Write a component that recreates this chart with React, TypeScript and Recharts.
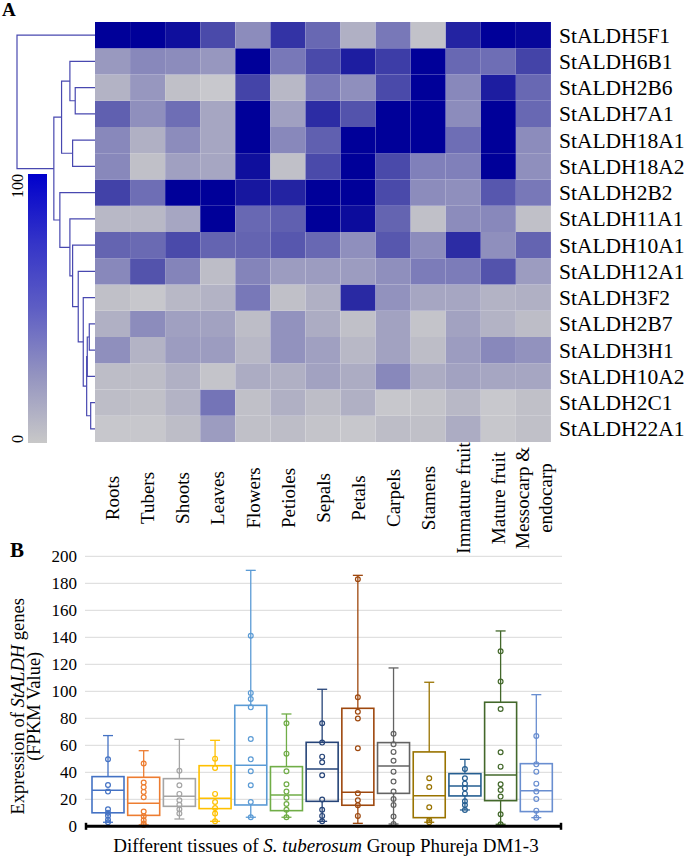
import React from "react";
import {
  BarChart,
  Bar,
  Cell,
  XAxis,
  YAxis,
  ScatterChart,
  Scatter,
  ComposedChart,
  CartesianGrid,
  ReferenceLine,
  Label,
} from "recharts";

const SERIF = '"Times New Roman", "Liberation Serif", serif';

// ---- panel A: heatmap ----
const genes = [
  "StALDH5F1", "StALDH6B1", "StALDH2B6", "StALDH7A1", "StALDH18A1", "StALDH18A2",
  "StALDH2B2", "StALDH11A1", "StALDH10A1", "StALDH12A1", "StALDH3F2", "StALDH2B7",
  "StALDH3H1", "StALDH10A2", "StALDH2C1", "StALDH22A1",
];

const tissues = [
  "Roots", "Tubers", "Shoots", "Leaves", "Flowers", "Petioles", "Sepals", "Petals",
  "Carpels", "Stamens", "Immature fruit", "Mature fruit", "Messocarp & endocarp",
];

const tissueLines = [
  ["Roots"], ["Tubers"], ["Shoots"], ["Leaves"], ["Flowers"], ["Petioles"], ["Sepals"],
  ["Petals"], ["Carpels"], ["Stamens"], ["Immature fruit"], ["Mature fruit"],
  ["Messocarp &", "endocarp"],
];

// relative expression (0-100), rows follow `genes`, columns follow `tissues`
const expression = [
  [100, 100, 95, 72, 40, 82, 58, 20, 50, 8, 88, 100, 98],
  [32, 42, 40, 33, 100, 50, 72, 90, 78, 100, 58, 55, 75],
  [18, 33, 10, 2, 75, 15, 50, 38, 72, 100, 42, 90, 58],
  [62, 38, 55, 25, 100, 28, 85, 68, 100, 100, 40, 100, 58],
  [42, 20, 40, 25, 100, 42, 62, 100, 100, 100, 55, 100, 40],
  [42, 10, 28, 25, 95, 10, 72, 100, 72, 46, 46, 100, 38],
  [76, 55, 100, 100, 92, 88, 100, 100, 72, 40, 38, 66, 50],
  [15, 15, 25, 100, 58, 62, 100, 96, 60, 10, 40, 42, 10],
  [60, 57, 72, 60, 60, 66, 58, 38, 66, 40, 85, 38, 60],
  [42, 68, 44, 12, 44, 30, 30, 30, 38, 48, 48, 68, 30],
  [10, 3, 15, 18, 50, 10, 20, 86, 36, 25, 25, 18, 20],
  [20, 40, 28, 27, 12, 36, 22, 10, 27, 6, 27, 18, 12],
  [38, 18, 30, 30, 15, 36, 28, 15, 27, 12, 30, 42, 36],
  [12, 12, 20, 6, 22, 20, 27, 22, 42, 22, 27, 25, 25],
  [12, 10, 18, 52, 10, 20, 12, 20, 3, 6, 15, 2, 10],
  [3, 3, 12, 30, 10, 12, 6, 3, 12, 10, 22, 3, 10],
];

// dendrogram merges: [child a, child b, height]; leaves are 0..15, new nodes from 16
const merges: [number, number, number][] = [
  [11, 12, 5.7],
  [16, 13, 7.7],
  [14, 15, 4.3],
  [17, 18, 8.3],
  [10, 19, 11.7],
  [9, 20, 16.7],
  [8, 21, 22.3],
  [7, 22, 25],
  [6, 23, 35],
  [2, 3, 19.7],
  [1, 25, 25],
  [4, 5, 22.3],
  [26, 27, 33.3],
  [28, 24, 41],
  [0, 29, 77.7],
];

const heatStops: [number, string][] = [
  [0, "#cacace"], [10, "#c0c0c8"], [20, "#b0b0c4"], [30, "#9c9cc0"], [40, "#8c8cbc"],
  [50, "#7878b8"], [62, "#6060b0"], [75, "#4444a8"], [85, "#2c2ca4"], [100, "#000099"],
];

// ---- panel B: box plots ----
const boxColors = [
  "#4472C4", "#ED7D31", "#A5A5A5", "#FFC000", "#5B9BD5", "#70AD47", "#264478",
  "#9E480E", "#636363", "#997300", "#255E91", "#43682B", "#698ED0",
];
const boxMin = [3, 1, 5.4, 3.7, 6.7, 6.7, 3.7, 2.2, 1.7, 3, 12.1, 1.5, 6.4];
const boxQ1 = [10, 8.1, 14.8, 13.1, 15.8, 11.6, 18.5, 15.6, 24.4, 6.4, 22.5, 19, 10.9];
const boxMedian = [26.7, 17, 22.2, 20.7, 45.2, 23.2, 42.5, 25.2, 44.7, 22.7, 29.9, 38, 26.4];
const boxQ3 = [36.8, 36.3, 35.3, 44.9, 89.6, 44.2, 62.2, 87.4, 62, 55.1, 39, 91.9, 46.4];
const boxMax = [67.2, 56, 64.4, 63.7, 189.6, 83.2, 101.5, 185.9, 117.3, 106.7, 49.6, 144.7, 97.5];
const boxPoints = [
  [49.6, 30.6, 25.7, 12.6, 10.1, 7.9, 4.9, 3],
  [46.5, 32.5, 29, 25.5, 21.5, 11, 7.5, 4.5, 2, 1],
  [41.2, 30.4, 24, 19.3, 16, 12.6, 9.4],
  [50.1, 43.2, 24, 18, 13.6, 9.4, 3.7],
  [141.2, 98.8, 94.3, 88.1, 64.7, 49.6, 40.7, 30.4, 18, 6.7],
  [76.3, 53.8, 40.7, 31.1, 25.7, 21.2, 16.5, 12.3, 6.7],
  [76.3, 62, 51.6, 47.4, 37.8, 19.8, 12.3, 7.7, 3.7],
  [183, 95.6, 84.9, 79.8, 57.8, 24.4, 19.3, 15.6, 7.7],
  [68.6, 60.7, 55.1, 48.6, 40.5, 33.1, 25.7, 20.2, 15.8, 7.2, 1.7],
  [35.6, 29.1, 14.1, 4.4, 3],
  [42.5, 35.6, 31.6, 28.1, 24.2, 18.5, 15.8, 12.1],
  [129.6, 107.2, 86.9, 54.8, 44.2, 31.1, 26.9, 22, 8.9, 1.5],
  [66.9, 45.9, 40.5, 31.6, 25.7, 20.2, 11.6, 6.4],
];
const fpkmTicks = [0, 20, 40, 60, 80, 100, 120, 140, 160, 180, 200];

function hexToRgb(h: string) {
  return [1, 3, 5].map((i) => parseInt(h.slice(i, i + 2), 16));
}

function heatColor(v: number): string {
  for (let i = 1; i < heatStops.length; i++) {
    const [v1, c1] = heatStops[i];
    const [v0, c0] = heatStops[i - 1];
    if (v <= v1) {
      const t = (v - v0) / (v1 - v0);
      const a = hexToRgb(c0);
      const b = hexToRgb(c1);
      const m = a.map((x, k) => Math.round(x + (b[k] - x) * t));
      return `rgb(${m[0]},${m[1]},${m[2]})`;
    }
  }
  return heatStops[heatStops.length - 1][1];
}

const heatData = tissues.map((t) => {
  const row: Record<string, string | number> = { tissue: t };
  genes.forEach((g) => (row[g] = 1));
  return row;
});

// dendrogram segments in (height, row position) space
const nodePos: number[] = genes.map((_, i) => i + 0.5);
const nodeHeight: number[] = genes.map(() => 0);
const dendroLinks = merges.map(([a, b, h]) => {
  const pts = [
    { h: nodeHeight[a], p: nodePos[a] },
    { h, p: nodePos[a] },
    { h, p: nodePos[b] },
    { h: nodeHeight[b], p: nodePos[b] },
  ];
  nodePos.push((nodePos[a] + nodePos[b]) / 2);
  nodeHeight.push(h);
  return pts;
});

const boxData = tissues.map((t, i) => ({
  tissue: t,
  range: [boxMin[i], boxMax[i]],
  min: boxMin[i],
  q1: boxQ1[i],
  median: boxMedian[i],
  q3: boxQ3[i],
  max: boxMax[i],
  points: boxPoints[i],
  color: boxColors[i],
}));

const GeneTick = ({ x, y, payload }: any) => (
  <text x={x} y={y} dy="0.35em" fontSize={21.5} fontFamily={SERIF} fill="#000">
    {genes[genes.length - 1 - Math.floor(payload.value)]}
  </text>
);

const TissueTick = ({ x, y, payload }: any) => {
  const lines = tissueLines[tissues.indexOf(payload.value)] || [payload.value];
  return (
    <g transform={`translate(${x},${y + 48}) rotate(-90)`}>
      <text textAnchor="middle" fontSize={19} fontFamily={SERIF} fill="#000">
        {lines.map((l: string, i: number) => (
          <tspan key={l} x={0} y={0} dy={`${0.35 + (i - (lines.length - 1) / 2) * 1.2}em`}>
            {l}
          </tspan>
        ))}
      </text>
    </g>
  );
};

const ScaleTick = ({ x, y, payload }: any) => (
  <text
    transform={`translate(${x + 3},${y}) rotate(-90)`}
    textAnchor={payload.value > 0 ? "end" : "start"}
    fontSize={16}
    fontFamily={SERIF}
    fill="#000"
  >
    {payload.value}
  </text>
);

const FpkmTick = ({ x, y, payload }: any) => (
  <text x={x} y={y} dy="0.35em" textAnchor="end" fontSize={17} fontFamily={SERIF} fill="#000">
    {payload.value}
  </text>
);

// thick base line with short end caps
const BaseLine = (props: any) => {
  const { x1, y1, x2, y2 } = props;
  return (
    <g stroke="#000">
      <line x1={x1} y1={y1} x2={x2} y2={y2} strokeWidth={3} />
      <line x1={x1 + 1} y1={y1 - 3.5} x2={x1 + 1} y2={y1 + 3.5} strokeWidth={2.5} />
      <line x1={x2 - 1} y1={y2 - 3.5} x2={x2 - 1} y2={y2 + 3.5} strokeWidth={2.5} />
    </g>
  );
};

const BoxShape = (props: any) => {
  const { x, y, width, height, payload } = props;
  const span = payload.max - payload.min;
  const py = (v: number) => y + ((payload.max - v) / span) * height;
  const cx = x + width / 2;
  const c = payload.color;
  const cap = 5;
  return (
    <g>
      <line x1={cx} x2={cx} y1={py(payload.max)} y2={py(payload.q3)} stroke={c} strokeWidth={1.3} />
      <line x1={cx} x2={cx} y1={py(payload.q1)} y2={py(payload.min)} stroke={c} strokeWidth={1.3} />
      <line x1={cx - cap} x2={cx + cap} y1={py(payload.max)} y2={py(payload.max)} stroke={c} strokeWidth={1.3} />
      <line x1={cx - cap} x2={cx + cap} y1={py(payload.min)} y2={py(payload.min)} stroke={c} strokeWidth={1.3} />
      <rect
        x={x}
        y={py(payload.q3)}
        width={width}
        height={py(payload.q1) - py(payload.q3)}
        fill="none"
        stroke={c}
        strokeWidth={1.6}
      />
      <line x1={x} x2={x + width} y1={py(payload.median)} y2={py(payload.median)} stroke={c} strokeWidth={1.5} />
      {payload.points.map((v: number, i: number) => (
        <circle key={i} cx={cx} cy={py(v)} r={2.4} fill="none" stroke={c} strokeWidth={1.2} />
      ))}
    </g>
  );
};

const YTitle = (props: any) => {
  const { viewBox } = props;
  const cy = viewBox.y + viewBox.height / 2 + 15;
  return (
    <g fontSize={18.5} fontFamily={SERIF} fill="#000">
      <text transform={`translate(${viewBox.x + 24},${cy}) rotate(-90)`} textAnchor="middle">
        Expression of <tspan fontStyle="italic">StALDH</tspan> genes
      </text>
      <text transform={`translate(${viewBox.x + 40},${cy}) rotate(-90)`} textAnchor="middle">
        (FPKM Value)
      </text>
    </g>
  );
};

const XTitle = (props: any) => {
  const { viewBox } = props;
  return (
    <text
      x={viewBox.x + viewBox.width / 2 + 2.5}
      y={viewBox.y + 25.7}
      textAnchor="middle"
      fontSize={19}
      fontFamily={SERIF}
      fill="#000"
    >
      Different tissues of <tspan fontStyle="italic">S. tuberosum</tspan> Group Phureja DM1-3
    </text>
  );
};

const abs = (left: number, top: number): React.CSSProperties => ({ position: "absolute", left, top });

export default function App() {
  return (
    <div style={{ position: "absolute", left: 0, top: 0, width: 685, height: 857, background: "#fff" }}>
      {/* dendrogram */}
      <div style={abs(0, 0)}>
        <ScatterChart width={100} height={460} margin={{ top: 22, right: 5, bottom: 18, left: 17 }}>
          <XAxis type="number" dataKey="h" domain={[0, 77.7]} reversed hide />
          <YAxis type="number" dataKey="p" domain={[0, 16]} reversed hide />
          {dendroLinks.map((pts, i) => (
            <Scatter
              key={i}
              data={pts}
              line={{ stroke: "#4848b0", strokeWidth: 1.2 }}
              shape={() => <g />}
              isAnimationActive={false}
            />
          ))}
        </ScatterChart>
      </div>

      {/* colour scale */}
      <div style={abs(0, 0)}>
        <BarChart
          width={60}
          height={460}
          data={[{ v: 100 }]}
          margin={{ top: 174, right: 13, bottom: 17, left: 0 }}
          barCategoryGap={0}
        >
          <defs>
            <linearGradient id="cbar" x1="0" y1="0" x2="0" y2="1">
              <stop offset="0%" stopColor="#0000cc" />
              <stop offset="25%" stopColor="#3333c8" />
              <stop offset="50%" stopColor="#5e5ec4" />
              <stop offset="75%" stopColor="#9494c0" />
              <stop offset="100%" stopColor="#c8c8c8" />
            </linearGradient>
          </defs>
          <XAxis hide />
          <YAxis
            width={28}
            domain={[0, 100]}
            ticks={[0, 100]}
            axisLine={false}
            tickLine={false}
            tick={<ScaleTick />}
          />
          <Bar dataKey="v" fill="url(#cbar)" isAnimationActive={false} />
        </BarChart>
      </div>

      {/* heatmap */}
      <div style={abs(0, 0)}>
        <BarChart
          width={685}
          height={560}
          data={heatData}
          margin={{ top: 22, right: 0, bottom: 0, left: 95 }}
          barCategoryGap={0}
          barGap={0}
        >
          <XAxis
            dataKey="tissue"
            height={118}
            interval={0}
            axisLine={false}
            tickLine={false}
            tick={<TissueTick />}
          />
          <YAxis
            orientation="right"
            type="number"
            width={134}
            domain={[0, 16]}
            ticks={genes.map((_, i) => i + 0.5)}
            interval={0}
            axisLine={false}
            tickLine={false}
            tick={<GeneTick />}
          />
          {[...genes].reverse().map((g) => {
            const gi = genes.indexOf(g);
            return (
              <Bar key={g} dataKey={g} stackId="heat" isAnimationActive={false}>
                {tissues.map((t, ti) => (
                  <Cell key={t} fill={heatColor(expression[gi][ti])} />
                ))}
              </Bar>
            );
          })}
        </BarChart>
      </div>

      {/* box plots */}
      <div style={abs(0, 540)}>
        <ComposedChart width={685} height={317} data={boxData} margin={{ top: 16.3, right: 123, bottom: 0, left: 0 }}>
          <CartesianGrid vertical={false} stroke="#d9d9d9" strokeWidth={1} />
          <XAxis
            dataKey="tissue"
            height={30.7}
            padding={{ left: 5, right: 8 }}
            tick={false}
            tickLine={false}
            axisLine={false}
          >
            <Label content={<XTitle />} />
          </XAxis>
          <YAxis
            width={85}
            domain={[0, 200]}
            ticks={fpkmTicks}
            interval={0}
            axisLine={false}
            tickLine={false}
            tick={<FpkmTick />}
          >
            <Label content={<YTitle />} />
          </YAxis>
          <Bar dataKey="range" barSize={32} shape={<BoxShape />} isAnimationActive={false} />
          <ReferenceLine y={0} shape={<BaseLine />} ifOverflow="visible" />
        </ComposedChart>
      </div>

      <div style={{ ...abs(2, 0), font: `bold 19px ${SERIF}`, lineHeight: "20px" }}>A</div>
      <div style={{ ...abs(10, 539), font: `bold 21px ${SERIF}`, lineHeight: "22px" }}>B</div>
    </div>
  );
}
